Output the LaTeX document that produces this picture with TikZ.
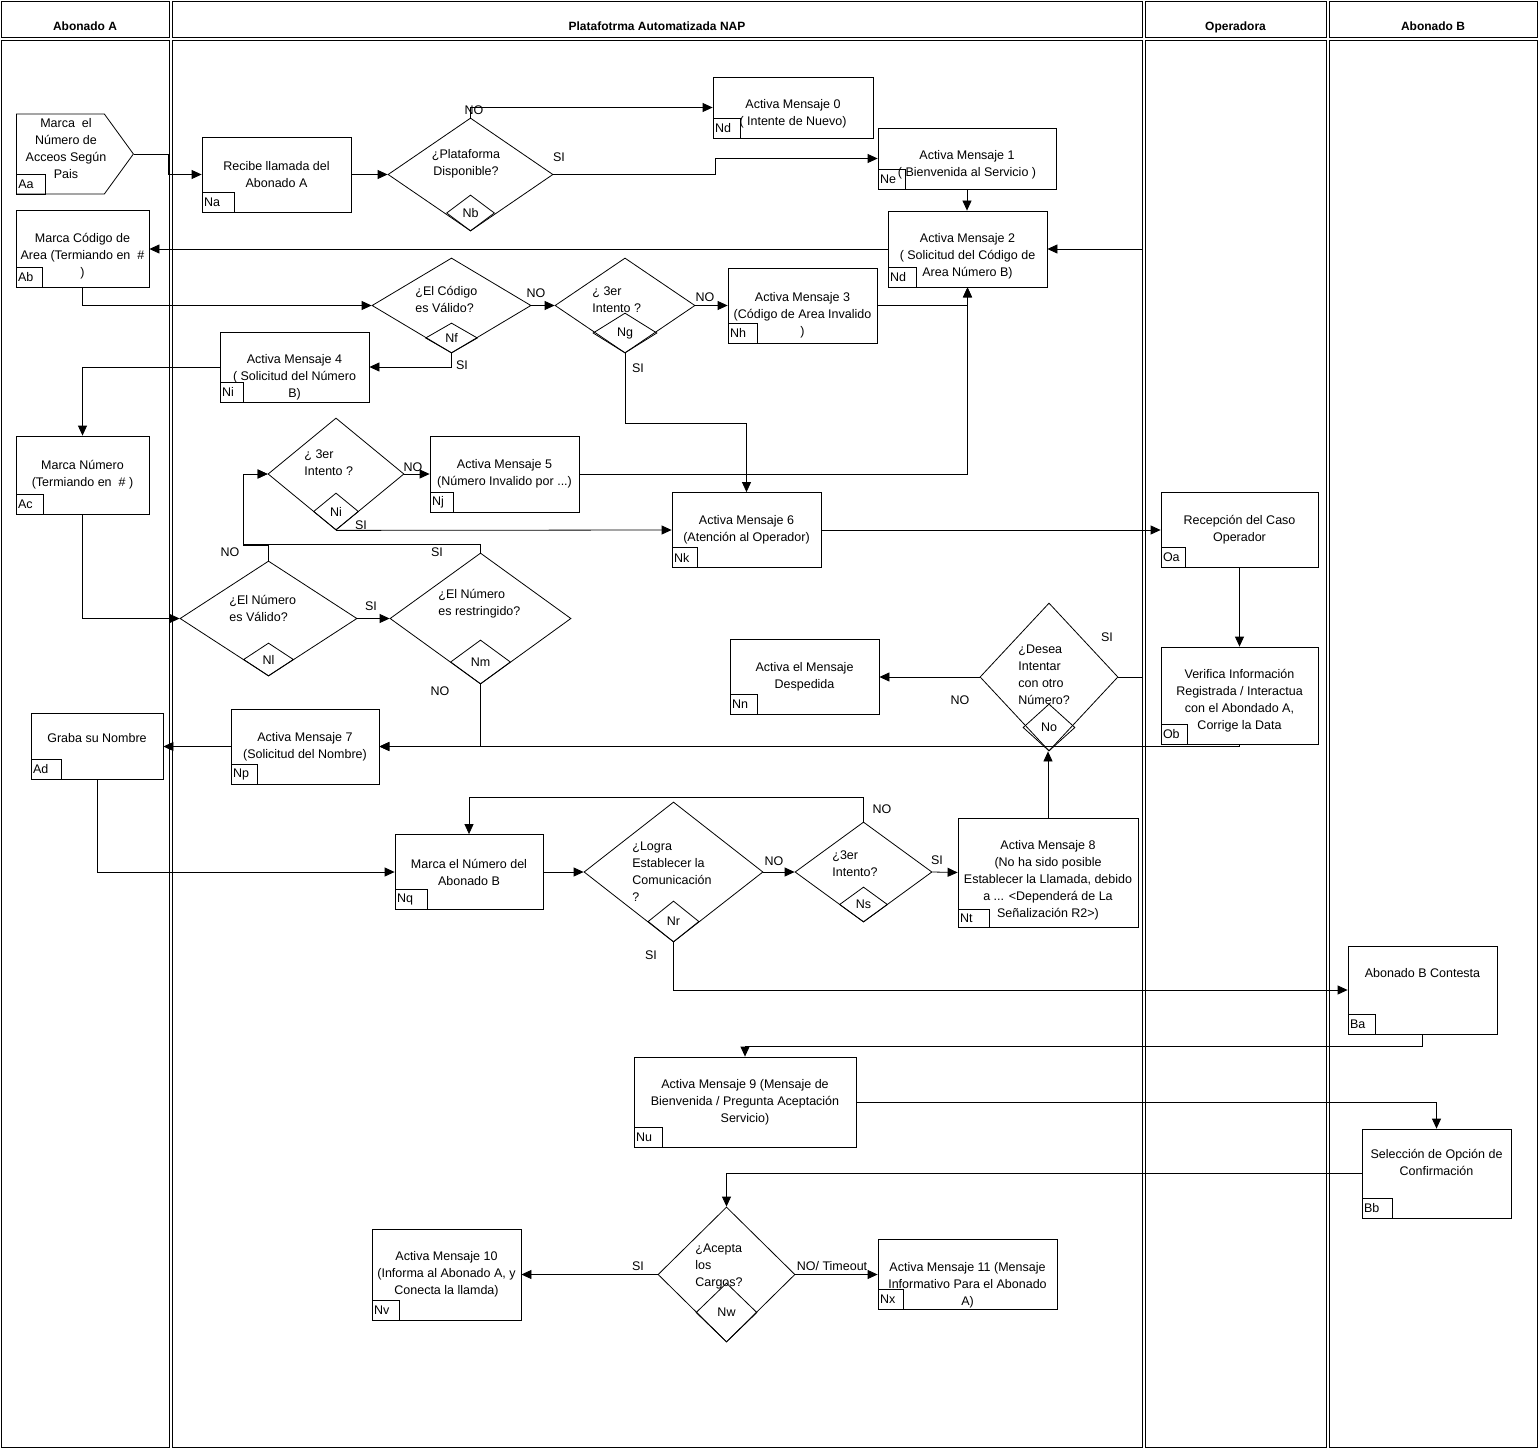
\documentclass[tikz,border=0pt]{standalone}
\usepackage{fontspec}
\setmainfont{Liberation Sans}
\usetikzlibrary{arrows.meta,shapes.geometric,shapes.symbols}

\newcommand\dn[1]{\rule{0pt}{\dimexpr 10pt+#1pt*2\relax}}

\tikzset{
  proc/.style={draw, rectangle, align=center, inner sep=1pt},
  dec/.style={draw, diamond, inner sep=0pt},
  dectxt/.style={anchor=west, align=left, inner sep=0pt},
  tag/.style={draw, anchor=south west, inner xsep=2pt, inner ysep=0pt, minimum height=20, text width=#1, align=left},
  tag/.default=23pt,
  tagd/.style={draw, diamond, inner sep=0pt, anchor=south},
  flow/.style={draw, -{Triangle[length=10pt,width=9pt]}},
  lbl/.style={inner sep=0pt}
}

\begin{document}
\begin{tikzpicture}[x=1pt,y=-1pt,line width=0.8pt,font=\fontsize{12.5}{17}\selectfont]
  \useasboundingbox (0,0) rectangle (1539,1450);
  \foreach \xa/\xb/\name [count=\i] in {1/169/Abonado A,172/1142/Platafotrma Automatizada NAP,1145/1326/Operadora,1329/1537/Abonado B}{
    \draw (\xa,1) rectangle (\xb,37);
    \draw (\xa,40) rectangle (\xb,1447);
    \node[font=\fontsize{12}{14}\selectfont\bfseries, anchor=base] (lane\i) at ({(\xa+\xb)/2},31) {\name};
  }

  % Abonado A
  \node[signal, signal to=east, signal pointer angle=108, draw, minimum width=117, minimum height=80, inner sep=0pt, anchor=west] (aa) at (16,154) {};
  \node[align=center, inner sep=0pt] (aa-txt) at (66,148.5) {Marca \ el\\Número de\\Acceos Según\\Pais};
  \node[tag=25pt] (aa-t) at (aa.west |- aa.south) {Aa};
  \node[proc, minimum width=133, minimum height=77] (ab) at (82.5,248.5) {\dn{7}Marca Código de\\Area (Termiando en \ \#\\)};
  \node[tag=22pt] (ab-t) at (ab.south west) {Ab};
  \node[proc, minimum width=133, minimum height=78] (ac) at (82.5,475) {Marca Número\\(Termiando en \ \# )};
  \node[tag] (ac-t) at (ac.south west) {Ac};
  \node[proc, minimum width=132, minimum height=66] (ad) at (97,746.5) {Graba su Nombre\\[1pt]\mbox{}};
  \node[tag=26pt] (ad-t) at (ad.south west) {Ad};

  % Plataforma
  \node[proc, minimum width=149, minimum height=75] (na) at (276.5,174.5) {Recibe llamada del\\Abonado A};
  \node[tag=28pt] (na-t) at (na.south west) {Na};
  \node[dec, minimum width=165, minimum height=113] (nb) at (470.5,174.5) {};
  \node[align=center, inner sep=0pt] (nb-txt) at (466,163.5) {¿Plataforma\\Disponible?};
  \node[tagd, minimum width=48, minimum height=36] (nb-t) at (nb.south) {Nb};
  \node[proc, minimum width=160, minimum height=61] (nd0) at (793,107.5) {\dn{6}Activa Mensaje 0\\( Intente de Nuevo)};
  \node[tag] (nd0-t) at (nd0.south west) {Nd};
  \node[proc, minimum width=178, minimum height=61] (ne) at (967,158.5) {\dn{6}Activa Mensaje 1\\( Bienvenida al Servicio )};
  \node[tag] (ne-t) at (ne.south west) {Ne};
  \node[proc, minimum width=159, minimum height=76] (nd2) at (967.5,249) {\dn{7}Activa Mensaje 2\\( Solicitud del Código de\\Area Número B)};
  \node[tag=24pt] (nd2-t) at (nd2.south west) {Nd};
  \node[dec, minimum width=159, minimum height=95] (nf) at (451.5,305.5) {};
  \node[dectxt] (nf-txt) at (415,299) {¿El Código\\es Válido?};
  \node[tagd, minimum width=52, minimum height=30] (nf-t) at (nf.south) {Nf};
  \node[dec, minimum width=140, minimum height=95] (ng) at (625,305.5) {};
  \node[dectxt] (ng-txt) at (592,300) {¿ 3er\\Intento ?};
  \node[tagd, minimum width=64, minimum height=40] (ng-t) at (ng.south) {Ng};
  \node[proc, minimum width=149, minimum height=75] (nh) at (802.5,305.5) {\dn{9}Activa Mensaje 3\\(Código de Area Invalido\\)};
  \node[tag=25pt] (nh-t) at (nh.south west) {Nh};
  \node[proc, minimum width=149, minimum height=70] (ni) at (294.5,367) {\dn{10}Activa Mensaje 4\\( Solicitud del Número\\B)};
  \node[tag=19pt] (ni-t) at (ni.south west) {Ni};
  \node[dec, minimum width=136, minimum height=112] (nidec) at (336,474) {};
  \node[dectxt] (nidec-txt) at (304,463) {¿ 3er\\Intento ?};
  \node[tagd, minimum width=45, minimum height=37] (nidec-t) at (nidec.south) {Ni};
  \node[proc, minimum width=149, minimum height=76] (nj) at (504.5,474) {Activa Mensaje 5\\(Número Invalido por ...)};
  \node[tag=19pt] (nj-t) at (nj.south west) {Nj};
  \node[proc, minimum width=149, minimum height=75] (nk) at (746.5,530) {Activa Mensaje 6\\(Atención al Operador)};
  \node[tag=21pt] (nk-t) at (nk.south west) {Nk};
  \node[dec, minimum width=177, minimum height=115] (nl) at (268.5,618.5) {};
  \node[dectxt] (nl-txt) at (229,608) {¿El Número\\es Válido?};
  \node[tagd, minimum width=50, minimum height=33] (nl-t) at (nl.south) {Nl};
  \node[dec, minimum width=181, minimum height=131] (nm) at (480.5,618.5) {};
  \node[dectxt] (nm-txt) at (438,603.5) {¿El Número\\es restringido?};
  \node[tagd, minimum width=60, minimum height=44] (nm-t) at (nm.south) {Nm};
  \node[dec, minimum width=138, minimum height=148] (nno) at (1049,677) {};
  \node[dectxt] (nno-txt) at (1018,674.5) {¿Desea\\Intentar\\con otro\\Número?};
  \node[tagd, minimum width=52, minimum height=47] (nno-t) at (nno.south) {No};
  \node[proc, minimum width=149, minimum height=75] (nn) at (804.5,677) {Activa el Mensaje\\Despedida};
  \node[tag] (nn-t) at (nn.south west) {Nn};
  \node[proc, minimum width=148, minimum height=75] (np) at (305,746.5) {Activa Mensaje 7\\(Solicitud del Nombre)};
  \node[tag=22pt] (np-t) at (np.south west) {Np};
  \node[proc, minimum width=148, minimum height=75] (nq) at (469,872) {Marca el Número del\\Abonado B};
  \node[tag=28pt] (nq-t) at (nq.south west) {Nq};
  \node[dec, minimum width=179, minimum height=140] (nr) at (673.5,872) {};
  \node[dectxt] (nr-txt) at (632,871.5) {¿Logra\\Establecer la\\Comunicación\\?};
  \node[tagd, minimum width=51, minimum height=41] (nr-t) at (nr.south) {Nr};
  \node[dec, minimum width=137, minimum height=100] (ns) at (863.5,872) {};
  \node[dectxt] (ns-txt) at (832,863.5) {¿3er\\Intento?};
  \node[tagd, minimum width=48, minimum height=35] (ns-t) at (ns.south) {Ns};
  \node[proc, minimum width=180, minimum height=109] (nt) at (1048,872.5) {\dn{7}Activa Mensaje 8\\(No ha sido posible\\Establecer la Llamada, debido\\a ... <Dependerá de La\\Señalización R2>)};
  \node[tag=27pt, minimum height=18] (nt-t) at (nt.south west) {Nt};
  \node[proc, minimum width=222, minimum height=90] (nu) at (745,1102) {Activa Mensaje 9 (Mensaje de\\Bienvenida / Pregunta Aceptación\\Servicio)};
  \node[tag=24pt] (nu-t) at (nu.south west) {Nu};
  \node[dec, minimum width=137, minimum height=135] (nw) at (726.5,1274.5) {};
  \node[dectxt] (nw-txt) at (695,1266) {¿Acepta\\los\\Cargos?};
  \node[tagd, minimum width=61, minimum height=59] (nw-t) at (nw.south) {Nw};
  \node[proc, minimum width=149, minimum height=91] (nv) at (446.5,1274.5) {Activa Mensaje 10\\(Informa al Abonado A, y\\Conecta la llamda)};
  \node[tag] (nv-t) at (nv.south west) {Nv};
  \node[proc, minimum width=179, minimum height=70] (nx) at (967.5,1274.5) {\dn{10}Activa Mensaje 11 (Mensaje\\Informativo Para el Abonado\\A)};
  \node[tag=21pt] (nx-t) at (nx.south west) {Nx};

  % Operadora
  \node[proc, minimum width=157, minimum height=75] (oa) at (1239.5,530) {Recepción del Caso\\Operador};
  \node[tag=20pt] (oa-t) at (oa.south west) {Oa};
  \node[proc, minimum width=157, minimum height=97] (ob) at (1239.5,695.5) {\dn{5}Verifica Información\\Registrada / Interactua\\con el Abondado A,\\Corrige la Data};
  \node[tag=22pt] (ob-t) at (ob.south west) {Ob};

  % Abonado B
  \node[proc, minimum width=149, minimum height=88] (ba) at (1422.5,990) {Abonado B Contesta\\ \mbox{}\\ \mbox{}};
  \node[tag] (ba-t) at (ba.south west) {Ba};
  \node[proc, minimum width=149, minimum height=89] (bb) at (1436.5,1173.5) {Selección de Opción de\\Confirmación\\[6pt]\mbox{}};
  \node[tag=26pt] (bb-t) at (bb.south west) {Bb};

  % labels
  \foreach \x/\y/\t [count=\i] in {474/110/NO,559/157/SI,536/293/NO,462/365/SI,705/297/NO,638/368/SI,
    413/467/NO,361/525/SI,230/552/NO,437/552/SI,371/606/SI,440/691/NO,1107/637/SI,960/700/NO,
    882/809/NO,774/861/NO,937/860/SI,651/955/SI,638/1266/SI}
    \node[lbl] (lbl\i) at (\x,\y) {\t};
  \node[lbl] (lbl-timeout) at (832,1266) {NO/ Timeout};

  % connectors
  \draw[flow] (aa.east) -| (168,174.5) -- (na.west);
  \draw[flow] (na.east) -- (nb.west);
  \draw[flow] (nb.north) |- (nd0.west);
  \draw[flow] (nb.east) -- (715,174.5) |- (ne.west);
  \draw[flow] (ne.south) -- (ne.south |- nd2.north);
  \draw[flow] (nd2.west) -- (nd2.west -| ab.east);
  \draw[flow] (ab.south) |- (nf.west);
  \draw[flow] (nf.east) -- (ng.west);
  \draw[flow] (ng.east) -- (nh.west);
  \draw[flow] (nh.east) -| (nd2.south);
  \draw[flow] (nf.south) |- (ni.east);
  \draw[flow] (ng.south) -- (625,423) -| (nk.north);
  \draw[flow] (ni.west) -| (ac.north);
  \draw[flow] (ac.south) |- (nl.west);
  \draw[flow] (nl.east) -- (nm.west);
  \draw[flow] (nl.north) -- (268.5,545) -- (243,545) |- (nidec.west);
  \draw[flow] (nm.north) -- (480.5,544) -- (243,544) |- (nidec.west);
  \draw[flow] (nidec.east) -- (nj.west);
  \draw[flow] (nj.east) -| (nd2.south);
  \draw[flow] (nidec.south) -- (nk.west);
  \draw[flow] (nk.east) -- (oa.west);
  \draw[flow] (oa.south) -- (ob.north);
  \draw[flow] (nm.south) |- (np.east);
  \draw[flow] (ob.south) |- (np.east);
  \draw[flow] (np.west) -- (ad.east);
  \draw[flow] (nno.west) -- (nn.east);
  \draw[flow] (nno.east) -- (1142,677) |- (nd2.east);
  \draw[flow] (ad.south) |- (nq.west);
  \draw[flow] (nq.east) -- (nr.west);
  \draw[flow] (nr.east) -- (ns.west);
  \draw[flow] (ns.east) -- (nt.west);
  \draw[flow] (ns.north) -- (863.5,797) -| (nq.north);
  \draw[flow] (nt.north) -- (nt.north |- nno.south);
  \draw[flow] (nr.south) |- (ba.west);
  \draw[flow] (ba.south) -- (1422.5,1046) -| (nu.north);
  \draw[flow] (nu.east) -| (bb.north);
  \draw[flow] (bb.west) -| (nw.north);
  \draw[flow] (nw.west) -- (nv.east);
  \draw[flow] (nw.east) -- (nx.west);
\end{tikzpicture}
\end{document}
